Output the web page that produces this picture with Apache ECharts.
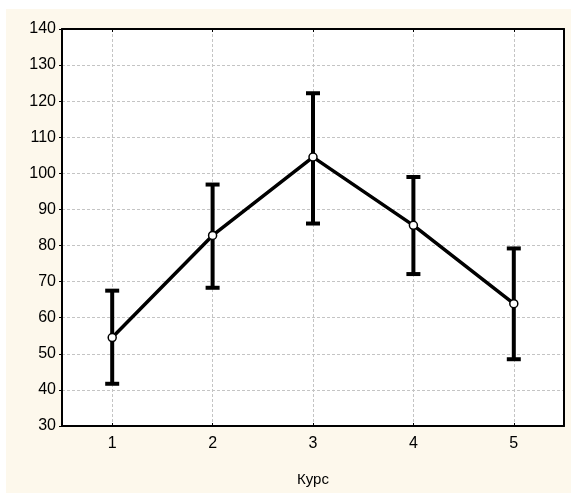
<!DOCTYPE html>
<html>
<head>
<meta charset="utf-8">
<script src="https://cdn.jsdelivr.net/npm/echarts@6/dist/echarts.min.js"></script>
<style>
  html, body { margin: 0; padding: 0; background: #fff; }
  #bg { position: absolute; left: 6px; top: 9px; width: 565px; height: 484px; background: #fdf8ec; }
  #main { position: absolute; left: 0; top: 0; width: 575px; height: 493px; }
</style>
</head>
<body>
<div id="bg"></div>
<div id="main"></div>
<script>
// курс -> среднее и границы
var courses = [1, 2, 3, 4, 5];
var means = [54.5, 82.8, 104.5, 85.6, 63.9];
var upper = [67.5, 96.9, 122.2, 99.0, 79.2];
var lower = [41.7, 68.3, 86.1, 72.1, 48.5];
var yMin = 30, yMax = 140, yStep = 10;

var lineData = courses.map(function (c, i) { return [c, means[i]]; });
var barData = courses.map(function (c, i) { return [c, lower[i], upper[i]]; });

var font = 'Liberation Sans, Arial, sans-serif';

var myChart = echarts.init(document.getElementById('main'));
myChart.setOption({
    backgroundColor: 'transparent',
    animation: false,
    grid: { left: 62, top: 29, right: 11, bottom: 67, show: true, backgroundColor: '#fff', borderWidth: 0 },
    xAxis: [{
        type: 'value', min: 0.5, max: 5.5, splitNumber: 5,
        name: 'Курс', nameLocation: 'middle', nameGap: 46,
        nameTextStyle: { color: '#000', fontSize: 15, fontFamily: font },
        axisLine: { lineStyle: { color: '#000', width: 2 } },
        axisTick: { inside: true, length: 3, lineStyle: { color: '#000' } },
        axisLabel: { color: '#000', fontSize: 16, fontFamily: font, margin: 10, showMinLabel: false, showMaxLabel: false },
        splitLine: { show: true, showMinLine: false, showMaxLine: false, lineStyle: { color: '#c4c4c4', type: [3, 2], width: 1 } }
    }, {
        type: 'value', min: 0.5, max: 5.5, splitNumber: 5, position: 'top',
        axisLine: { lineStyle: { color: '#000', width: 2 } },
        axisTick: { inside: true, length: 3, lineStyle: { color: '#000' } },
        axisLabel: { show: false }, splitLine: { show: false }
    }],
    yAxis: [{
        type: 'value', min: yMin, max: yMax, interval: yStep,
        axisLine: { show: true, lineStyle: { color: '#000', width: 2 } },
        axisTick: { show: true, length: 3, lineStyle: { color: '#000' } },
        axisLabel: { color: '#000', fontSize: 16, fontFamily: font, margin: 6 },
        splitLine: { show: true, showMinLine: false, showMaxLine: false, lineStyle: { color: '#c4c4c4', type: [3, 2], width: 1 } }
    }, {
        type: 'value', min: yMin, max: yMax, interval: yStep, position: 'right',
        axisLine: { show: true, lineStyle: { color: '#000', width: 2 } },
        axisTick: { show: false }, axisLabel: { show: false }, splitLine: { show: false }
    }],
    series: [{
        type: 'custom',
        data: barData,
        z: 3,
        renderItem: function (params, api) {
            var x = api.value(0);
            var lo = api.coord([x, api.value(1)]);
            var hi = api.coord([x, api.value(2)]);
            var hw = 7;
            var st = { stroke: '#000', lineWidth: 4, fill: null };
            return {
                type: 'group',
                children: [
                    { type: 'line', shape: { x1: lo[0], y1: lo[1], x2: hi[0], y2: hi[1] }, style: st },
                    { type: 'line', shape: { x1: lo[0] - hw, y1: lo[1], x2: lo[0] + hw, y2: lo[1] }, style: st },
                    { type: 'line', shape: { x1: hi[0] - hw, y1: hi[1], x2: hi[0] + hw, y2: hi[1] }, style: st }
                ]
            };
        }
    }, {
        type: 'line',
        data: lineData,
        z: 4,
        symbol: 'circle',
        symbolSize: 8,
        lineStyle: { color: '#000', width: 3.5 },
        itemStyle: { color: '#fff', borderColor: '#000', borderWidth: 1.5 }
    }]
});
</script>
</body>
</html>
